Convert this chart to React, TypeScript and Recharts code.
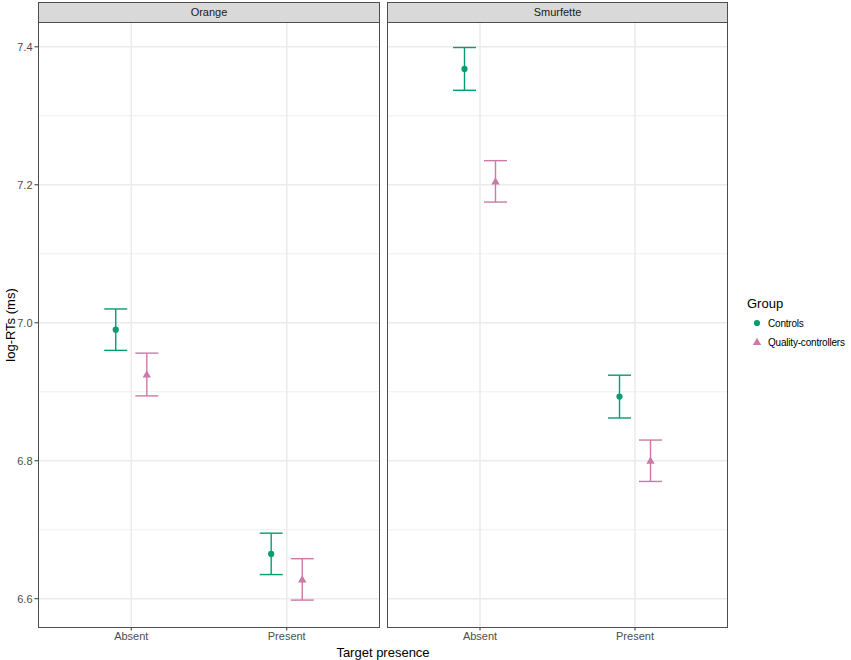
import React from "react";
import {
  ScatterChart,
  Scatter,
  XAxis,
  YAxis,
  CartesianGrid,
  ErrorBar,
} from "recharts";

// facets, groups and categories
const panels = ["Orange", "Smurfette"];
const groups = ["Controls", "Quality-controllers"];
const presence = ["Absent", "Present"];

// means (log-RTs) per presence level: [Absent, Present]
const orangeControls = [6.99, 6.665];
const orangeQuality = [6.925, 6.628];
const smurfetteControls = [7.368, 6.893];
const smurfetteQuality = [7.205, 6.8];

// standard errors
const orangeControlsSe = [0.03, 0.03];
const orangeQualitySe = [0.031, 0.03];
const smurfetteControlsSe = [0.031, 0.031];
const smurfetteQualitySe = [0.03, 0.03];

const yTicks = [6.6, 6.8, 7.0, 7.2, 7.4];
const yMinor = [6.7, 6.9, 7.1, 7.3];

const colors = ["#009E73", "#CC79A7"];
const FONT = "'Liberation Sans', Arial, sans-serif";
const DODGE = 0.1;
const Y_DOMAIN = [6.559, 7.436];

function rows(means: number[], ses: number[], gi: number) {
  return means.map((m, i) => ({
    x: i + 1 + (gi === 0 ? -DODGE : DODGE),
    y: m,
    err: ses[i],
  }));
}

const Dot = (props: any) => (
  <circle cx={props.cx} cy={props.cy} r={3.1} fill={colors[0]} />
);

const Tri = (props: any) => {
  const { cx, cy } = props;
  const s = 4.2;
  return (
    <polygon
      points={`${cx},${cy - s} ${cx - s},${cy + s * 0.72} ${cx + s},${cy + s * 0.72}`}
      fill={colors[1]}
    />
  );
};

function Panel({
  left,
  width,
  margin,
  showY,
  data,
}: {
  left: number;
  width: number;
  margin: any;
  showY: boolean;
  data: any[][];
}) {
  return (
    <div style={{ position: "absolute", left, top: 22 }}>
      <ScatterChart width={width} height={638} margin={margin}>
        <CartesianGrid
          stroke="#EBEBEB"
          strokeWidth={0.8}
          horizontalValues={yMinor}
          vertical={false}
        />
        <CartesianGrid
          stroke="#EBEBEB"
          strokeWidth={1.5}
          horizontalValues={yTicks}
          verticalValues={[1, 2]}
        />
        <XAxis
          type="number"
          dataKey="x"
          domain={[0.4, 2.6]}
          ticks={[1, 2]}
          allowDataOverflow
          tickFormatter={(v) => presence[v - 1]}
          height={33}
          axisLine={false}
          tickSize={3.5}
          tickLine={{ stroke: "#333333" }}
          tick={{ fontSize: 11, fill: "#4D4D4D", fontFamily: FONT }}
        />
        <YAxis
          type="number"
          dataKey="y"
          domain={Y_DOMAIN}
          ticks={yTicks}
          allowDataOverflow
          hide={!showY}
          width={38}
          tickFormatter={(v) => v.toFixed(1)}
          axisLine={false}
          tickSize={3.5}
          tickLine={{ stroke: "#333333" }}
          tick={{ fontSize: 11, fill: "#4D4D4D", fontFamily: FONT }}
        />
        <Scatter
          name={groups[0]}
          data={data[0]}
          shape={Dot}
          isAnimationActive={false}
        >
          <ErrorBar
            dataKey="err"
            direction="y"
            width={11.5}
            stroke={colors[0]}
            strokeWidth={1.4}
          />
        </Scatter>
        <Scatter
          name={groups[1]}
          data={data[1]}
          shape={Tri}
          isAnimationActive={false}
        >
          <ErrorBar
            dataKey="err"
            direction="y"
            width={11.5}
            stroke={colors[1]}
            strokeWidth={1.4}
          />
        </Scatter>
      </ScatterChart>
    </div>
  );
}

function Strip({ left, width, label }: { left: number; width: number; label: string }) {
  return (
    <>
      <div
        style={{
          position: "absolute",
          left,
          top: 2,
          width,
          height: 21,
          boxSizing: "border-box",
          background: "#D9D9D9",
          border: "1px solid #4D4D4D",
          fontFamily: FONT,
          fontSize: 11,
          color: "#1A1A1A",
          textAlign: "center",
          lineHeight: "19px",
        }}
      >
        {label}
      </div>
      <div
        style={{
          position: "absolute",
          left,
          top: 22,
          width,
          height: 606,
          boxSizing: "border-box",
          border: "1px solid #4D4D4D",
          pointerEvents: "none",
        }}
      />
    </>
  );
}

export default function App() {
  return (
    <div
      style={{
        position: "absolute",
        left: 0,
        top: 0,
        width: 851,
        height: 660,
        background: "#fff",
        fontFamily: FONT,
        overflow: "hidden",
      }}
    >
      <Panel
        left={0}
        width={381}
        margin={{ top: 0, right: 1, bottom: 0, left: 0 }}
        showY
        data={[
          rows(orangeControls, orangeControlsSe, 0),
          rows(orangeQuality, orangeQualitySe, 1),
        ]}
      />
      <Panel
        left={381}
        width={470}
        margin={{ top: 0, right: 123, bottom: 0, left: 6 }}
        showY={false}
        data={[
          rows(smurfetteControls, smurfetteControlsSe, 0),
          rows(smurfetteQuality, smurfetteQualitySe, 1),
        ]}
      />
      <Strip left={38} width={342} label={panels[0]} />
      <Strip left={387} width={341} label={panels[1]} />

      {/* axis titles */}
      <div
        style={{
          position: "absolute",
          left: 10,
          top: 325,
          transform: "translate(-50%, -50%) rotate(-90deg)",
          whiteSpace: "nowrap",
          fontSize: 13,
          color: "#000",
        }}
      >
        log-RTs (ms)
      </div>
      <div
        style={{
          position: "absolute",
          left: 383,
          top: 652,
          transform: "translate(-50%, -50%)",
          whiteSpace: "nowrap",
          fontSize: 13,
          color: "#000",
        }}
      >
        Target presence
      </div>

      {/* legend */}
      <div
        style={{
          position: "absolute",
          left: 747,
          top: 296,
          fontSize: 13,
          color: "#000",
          whiteSpace: "nowrap",
        }}
      >
        Group
      </div>
      {groups.map((g, i) => (
        <div
          key={g}
          style={{
            position: "absolute",
            left: 750,
            top: 315 + i * 19,
            height: 16,
            display: "flex",
            alignItems: "center",
            fontSize: 10,
            letterSpacing: -0.2,
            color: "#000",
            whiteSpace: "nowrap",
          }}
        >
          <svg width={16} height={16} style={{ marginRight: 2 }}>
            {i === 0 ? (
              <circle cx={7} cy={8} r={3.1} fill={colors[0]} />
            ) : (
              <polygon points="7,3.8 2.8,11 11.2,11" fill={colors[1]} />
            )}
          </svg>
          {g}
        </div>
      ))}
    </div>
  );
}
